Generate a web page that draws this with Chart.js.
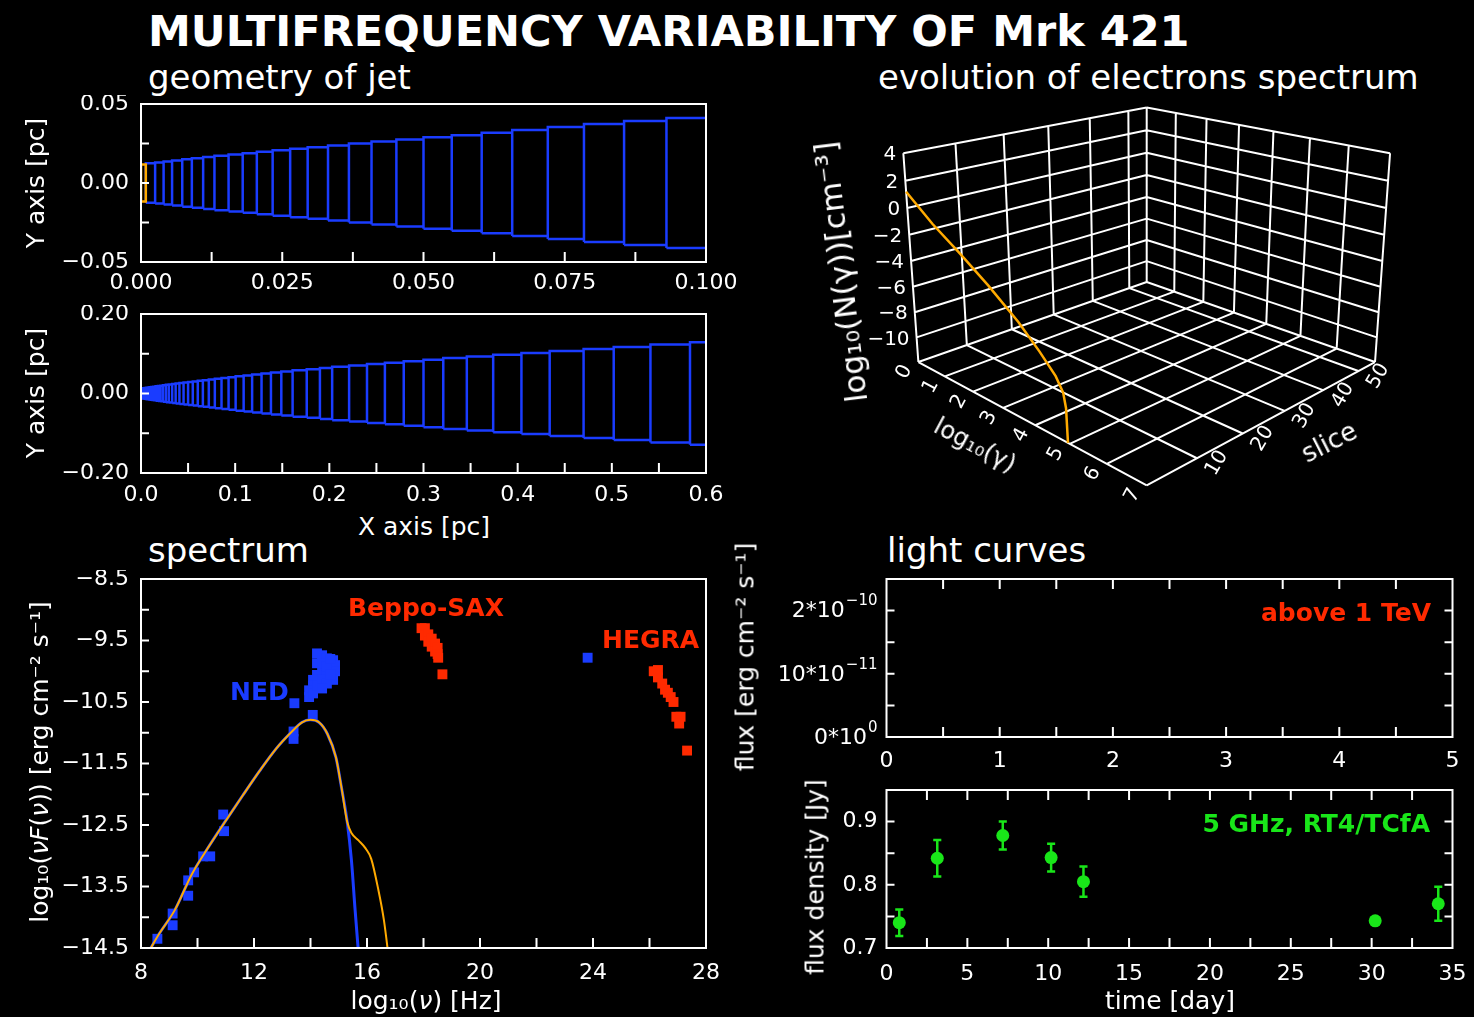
<!DOCTYPE html>
<html>
<head>
<meta charset="utf-8">
<script src="https://cdn.jsdelivr.net/npm/chart.js@4.4.1/dist/chart.umd.min.js"></script>
<style>
  body { margin: 0; background: #000; width: 1474px; height: 1017px; overflow: hidden; position: relative;
         font-family: 'DejaVu Sans', sans-serif; color: #fff; }
  canvas { position: absolute; }
  .txt { position: absolute; white-space: nowrap; line-height: 1; }
  .ctr { position: absolute; white-space: nowrap; line-height: 1; font-size: 25px; transform: translate(-50%, -50%); }
  .up { position: absolute; white-space: nowrap; line-height: 1; font-size: 25px; transform: translate(-50%, -50%) rotate(-90deg); }
  .tag { position: absolute; white-space: nowrap; line-height: 1; font-weight: bold; font-size: 25px; }
</style>
</head>
<body>
<div class="txt" style="left:148px;top:10px;font-size:43px;font-weight:bold">MULTIFREQUENCY VARIABILITY OF Mrk 421</div>
<div class="txt" style="left:148px;top:60px;font-size:34px">geometry of jet</div>
<div class="txt" style="left:878px;top:60px;font-size:34px">evolution of electrons spectrum</div>
<div class="txt" style="left:148px;top:533px;font-size:34px">spectrum</div>
<div class="txt" style="left:887px;top:533px;font-size:34px">light curves</div>

<canvas id="jetNear" width="740" height="205" style="left:0;top:95px"></canvas>
<canvas id="jetFar" width="740" height="205" style="left:0;top:305px"></canvas>
<canvas id="electrons" width="660" height="430" style="left:790px;top:90px"></canvas>
<canvas id="sed" width="740" height="420" style="left:0;top:570px"></canvas>
<canvas id="tev" width="714" height="210" style="left:760px;top:570px"></canvas>
<canvas id="radio" width="714" height="215" style="left:760px;top:780px"></canvas>

<div class="up" style="left:35px;top:183px">Y axis [pc]</div>
<div class="up" style="left:35px;top:393px">Y axis [pc]</div>
<div class="ctr" style="left:424px;top:526px">X axis [pc]</div>
<div class="txt" style="left:841px;top:272px;font-size:31px;transform:translate(-50%,-50%) rotate(-97deg)">log₁₀(N(γ))[cm⁻³]</div>
<div class="txt" style="left:975px;top:445px;font-size:24px;transform:translate(-50%,-50%) rotate(28deg)">log₁₀(γ)</div>
<div class="txt" style="left:1329px;top:442px;font-size:26px;transform:translate(-50%,-50%) rotate(-27deg)">slice</div>
<div class="up" style="left:39px;top:762px">log₁₀(<i>ν</i><i>F</i>(<i>ν</i>)) [erg cm⁻² s⁻¹]</div>
<div class="ctr" style="left:426px;top:1000px">log₁₀(<i>ν</i>) [Hz]</div>
<div class="up" style="left:745px;top:657px">flux [erg cm⁻² s⁻¹]</div>
<div class="up" style="left:815px;top:877px">flux density [Jy]</div>
<div class="ctr" style="left:1170px;top:1000px">time [day]</div>

<div class="tag" style="left:230px;top:679px;color:#1a3cff">NED</div>
<div class="tag" style="left:348px;top:595px;color:#ff2a00">Beppo-SAX</div>
<div class="tag" style="left:602px;top:627px;color:#ff2a00">HEGRA</div>
<div class="tag" style="right:43px;top:600px;color:#ff2a00">above 1 TeV</div>
<div class="tag" style="right:44px;top:811px;color:#19e619">5 GHz, RT4/TCfA</div>

<script>
const blue = '#1a3cff';
const orange = '#ffaa00';
const red = '#ff2a00';
const green = '#19e619';
const M = '\u2212';

// jet cells: boundaries along the axis and half-width of every cell [pc]
const jetEdges = [0, 0.00085, 0.0025, 0.004, 0.0055, 0.0073, 0.009, 0.011, 0.013, 0.0155, 0.018,
  0.0205, 0.0233, 0.0264, 0.0295, 0.0331, 0.0368, 0.0408, 0.0452, 0.05, 0.055, 0.0603, 0.0657,
  0.072, 0.0784, 0.0855, 0.093, 0.1005, 0.109, 0.118, 0.128, 0.138, 0.149, 0.161, 0.176, 0.19,
  0.203, 0.221, 0.24, 0.259, 0.279, 0.3, 0.321, 0.346, 0.374, 0.404, 0.434, 0.47, 0.502, 0.541,
  0.583, 0.627];
const jetRadius = [0.0117, 0.0125, 0.013, 0.0136, 0.0143, 0.015, 0.0157, 0.0164, 0.0172, 0.0181,
  0.0189, 0.0198, 0.0207, 0.0217, 0.0227, 0.0238, 0.025, 0.0262, 0.0275, 0.0289, 0.0303, 0.0318,
  0.0336, 0.0354, 0.0373, 0.0392, 0.0411, 0.0432, 0.0455, 0.0478, 0.0502, 0.0527, 0.0553, 0.0582,
  0.0612, 0.0642, 0.0672, 0.0705, 0.074, 0.0775, 0.0812, 0.085, 0.089, 0.0932, 0.0976, 0.102,
  0.1068, 0.1117, 0.117, 0.123, 0.129];

const jetNearXTicks = [0, 0.025, 0.05, 0.075, 0.1];
const jetNearXLabels = ['0.000', '0.025', '0.050', '0.075', '0.100'];
const jetNearYTicks = [-0.05, 0, 0.05];
const jetNearYLabels = [M + '0.05', '0.00', '0.05'];
const jetNearXMarks = [0.0125, 0.025, 0.0375, 0.05, 0.0625, 0.075, 0.0875];
const jetNearYMarks = [-0.025, 0, 0.025];

const jetFarXTicks = [0, 0.1, 0.2, 0.3, 0.4, 0.5, 0.6];
const jetFarXLabels = ['0.0', '0.1', '0.2', '0.3', '0.4', '0.5', '0.6'];
const jetFarYTicks = [-0.2, 0, 0.2];
const jetFarYLabels = [M + '0.20', '0.00', '0.20'];
const jetFarXMarks = [0.05, 0.1, 0.15, 0.2, 0.25, 0.3, 0.35, 0.4, 0.45, 0.5, 0.55];
const jetFarYMarks = [-0.1, 0, 0.1];

// electron spectrum box: log10(gamma) 0..7, slice 0..55, log10 N -12..4
const gammaTicks = [0, 1, 2, 3, 4, 5, 6, 7];
const sliceTicks = [0, 10, 20, 30, 40, 50];
const logNTicks = [4, 2, 0, -2, -4, -6, -8, -10, -12];
const gammaMax = 7, sliceMax = 55, logNMin = -12, logNMax = 4;
// spectrum of the first slice
const elGamma = [0, 0.9, 1.8, 2.7, 3.6, 4.2, 4.65, 4.85, 4.92, 4.95];
const elLogN = [1.2, -0.5, -1.9, -3.4, -5.1, -6.5, -7.7, -8.6, -9.6, -12];

// broadband spectrum, log10(nu) and log10(nu F(nu))
const nedNu = [8.58, 9.12, 9.12, 9.67, 9.67, 9.88, 10.2, 10.45, 10.94, 10.91, 13.43, 13.4, 13.4,
  14.08, 14.23, 14.41, 14.23, 14.58, 14.8, 14.87, 14.87, 14.8, 14.58, 14.41, 14.23, 14.09, 14.09,
  13.95, 13.95, 14.09, 14.23, 14.41, 14.58, 14.41, 14.58, 14.7, 14.41, 14.7, 23.81];
const nedFlux = [-14.35, -13.94, -14.13, -13.4, -13.65, -13.27, -13.01, -13.01, -12.6, -12.33,
  -10.52, -10.98, -11.1, -10.71, -9.71, -9.74, -9.87, -9.79, -9.82, -9.9, -10.0, -10.14, -10.06,
  -10.0, -10.06, -10.14, -10.23, -10.31, -10.42, -10.36, -10.23, -10.14, -10.2, -9.87, -9.92,
  -10.05, -10.28, -9.8, -9.78];
const saxNu = [17.93, 18.05, 18.05, 18.17, 18.17, 18.29, 18.29, 18.41, 18.41, 18.5, 18.5, 18.52, 18.67];
const saxFlux = [-9.3, -9.3, -9.42, -9.4, -9.52, -9.47, -9.6, -9.55, -9.68, -9.62, -9.72, -9.78, -10.05];
const hegraNu = [26.15, 26.3, 26.3, 26.45, 26.55, 26.65, 26.75, 26.85, 26.95, 27.1, 27.05, 27.33];
const hegraFlux = [-10.0, -9.98, -10.1, -10.2, -10.3, -10.35, -10.42, -10.5, -10.74, -10.74, -10.85, -11.29];
// model: synchrotron part shared by both curves, then the two high-frequency tails
const modelNu = [8.2, 8.6, 9.2, 9.8, 10.4, 11.0, 11.6, 12.2, 12.8, 13.3, 13.7, 14.0, 14.3, 14.6, 14.9, 15.1, 15.3];
const modelFlux = [-14.62, -14.3, -13.88, -13.3, -12.85, -12.43, -12.02, -11.62, -11.25, -11.0,
  -10.83, -10.79, -10.83, -11.02, -11.4, -11.9, -12.45];
const steepNu = [15.45, 15.58, 15.72];
const steepFlux = [-13.08, -13.89, -14.7];
const shoulderNu = [15.45, 15.7, 15.95, 16.15, 16.4, 16.6, 16.78];
const shoulderFlux = [-12.63, -12.75, -12.88, -13.05, -13.55, -14.05, -14.7];

const sedXTicks = [8, 12, 16, 20, 24, 28];
const sedXLabels = ['8', '12', '16', '20', '24', '28'];
const sedYTicks = [-14.5, -13.5, -12.5, -11.5, -10.5, -9.5, -8.5];
const sedYLabels = sedYTicks.map(v => M + String(-v));
const sedXMarks = [10, 12, 14, 16, 18, 20, 22, 24, 26];
const sedYMarks = [-14, -13.5, -13, -12.5, -12, -11.5, -11, -10.5, -10, -9.5, -9];

// light curves
const tevXTicks = [0, 1, 2, 3, 4, 5];
const tevXLabels = ['0', '1', '2', '3', '4', '5'];
const tevYTicks = [0, 1e-10, 2e-10];
const tevYMantissa = ['0*10', '10*10', '2*10'];
const tevYPower = ['0', M + '11', M + '10'];
const tevXMarks = [0.5, 1, 1.5, 2, 2.5, 3, 3.5, 4, 4.5];
const tevYMarks = [0.5e-10, 1e-10, 1.5e-10, 2e-10];

const radioDay = [0.79, 3.14, 7.19, 10.18, 12.18, 30.22, 34.12];
const radioFlux = [0.740, 0.842, 0.878, 0.843, 0.805, 0.743, 0.770];
const radioErr = [0.021, 0.029, 0.022, 0.022, 0.024, 0.004, 0.027];
const radioXTicks = [0, 5, 10, 15, 20, 25, 30, 35];
const radioXLabels = ['0', '5', '10', '15', '20', '25', '30', '35'];
const radioYTicks = [0.7, 0.8, 0.9];
const radioYLabels = ['0.7', '0.8', '0.9'];
const radioXMarks = [2.5, 5, 7.5, 10, 12.5, 15, 17.5, 20, 22.5, 25, 27.5, 30, 32.5];
const radioYMarks = [0.75, 0.8, 0.85, 0.9];

const tickFont = { family: 'DejaVu Sans', size: 22 };

// fixed-size axis boxes, no extra room for labels hanging over the ends
function noOverhang(s) {
  s.paddingTop = 0; s.paddingBottom = 0; s.paddingLeft = 0; s.paddingRight = 0;
}

function xAxis(min, max, ticks, labels, pad, height) {
  return {
    type: 'linear', min: min, max: max,
    grid: { display: false, drawTicks: false }, border: { display: false },
    afterBuildTicks: s => { s.ticks = ticks.map(v => ({ value: v })); },
    afterFit: s => { s.height = height; noOverhang(s); },
    ticks: { color: '#fff', font: tickFont, padding: pad, autoSkip: false, maxRotation: 0,
             callback: (v, i) => labels[i] }
  };
}

function yAxis(min, max, ticks, labels, pad, width) {
  return {
    type: 'linear', min: min, max: max,
    grid: { display: false, drawTicks: false }, border: { display: false },
    afterBuildTicks: s => { s.ticks = ticks.map(v => ({ value: v })); },
    afterFit: s => { s.width = width; noOverhang(s); },
    ticks: { color: '#fff', font: tickFont, padding: pad, autoSkip: false,
             callback: (v, i) => labels ? labels[i] : '' }
  };
}

// box round the plot area with inward tick marks
function frame(xMarks, yMarks, boxed) {
  return {
    id: 'frame',
    afterDatasetsDraw(chart) {
      const { ctx, chartArea: a, scales } = chart;
      ctx.save();
      ctx.strokeStyle = '#fff';
      ctx.lineWidth = 2;
      ctx.beginPath();
      xMarks.forEach(v => {
        const p = scales.x.getPixelForValue(v);
        ctx.moveTo(p, a.bottom); ctx.lineTo(p, a.bottom - 10);
        if (boxed) { ctx.moveTo(p, a.top); ctx.lineTo(p, a.top + 10); }
      });
      yMarks.forEach(v => {
        const p = scales.y.getPixelForValue(v);
        ctx.moveTo(a.left, p); ctx.lineTo(a.left + 8, p);
        if (boxed) { ctx.moveTo(a.right, p); ctx.lineTo(a.right - 8, p); }
      });
      ctx.stroke();
      ctx.strokeRect(a.left, a.top, a.right - a.left, a.bottom - a.top);
      ctx.restore();
    }
  };
}

// y labels written as mantissa*10 with a raised exponent
function powerLabels(ticks, mantissa, power) {
  return {
    id: 'powerLabels',
    afterDraw(chart) {
      const { ctx, chartArea: a, scales } = chart;
      ctx.save();
      ctx.fillStyle = '#fff';
      ctx.textAlign = 'right';
      ctx.textBaseline = 'middle';
      ticks.forEach((v, i) => {
        const y = scales.y.getPixelForValue(v);
        const right = a.left - 9;
        ctx.font = '15px "DejaVu Sans"';
        const w = ctx.measureText(power[i]).width;
        ctx.fillText(power[i], right, y - 9);
        ctx.font = '22px "DejaVu Sans"';
        ctx.fillText(mantissa[i], right - w - 1, y + 1);
      });
      ctx.restore();
    }
  };
}

function baseOptions(padding, scales) {
  return {
    responsive: false, animation: false, events: [],
    layout: { autoPadding: false, padding: padding },
    plugins: { legend: { display: false }, tooltip: { enabled: false } },
    scales: scales
  };
}

function cellOutlines(from, to) {
  const pts = [];
  for (let i = from; i < to; i++) {
    const a = jetEdges[i], b = jetEdges[i + 1], r = jetRadius[i];
    pts.push({ x: a, y: -r }, { x: a, y: r }, { x: b, y: r }, { x: b, y: -r }, { x: a, y: -r }, { x: b, y: null });
  }
  return pts;
}

function outline(data, color) {
  return { data: data, showLine: true, borderColor: color, borderWidth: 2.5, pointRadius: 0,
           borderJoinStyle: 'miter' };
}

function pairs(xs, ys) {
  return xs.map((x, i) => ({ x: x, y: ys[i] }));
}

// geometry of jet, inner part
new Chart(document.getElementById('jetNear'), {
  type: 'scatter',
  data: { datasets: [
    outline(cellOutlines(0, 1), orange),
    outline(cellOutlines(1, jetRadius.length), blue)
  ] },
  options: baseOptions({ top: 9, right: 34 }, {
    x: xAxis(0, 0.1, jetNearXTicks, jetNearXLabels, 8, 38),
    y: yAxis(-0.05, 0.05, jetNearYTicks, jetNearYLabels, 12, 141)
  }),
  plugins: [frame(jetNearXMarks, jetNearYMarks, false)]
});

// geometry of jet, whole length
new Chart(document.getElementById('jetFar'), {
  type: 'scatter',
  data: { datasets: [
    outline(cellOutlines(1, jetRadius.length), blue),
    outline(cellOutlines(0, 1), orange)
  ] },
  options: baseOptions({ top: 9, right: 34 }, {
    x: xAxis(0, 0.6, jetFarXTicks, jetFarXLabels, 9, 37),
    y: yAxis(-0.2, 0.2, jetFarYTicks, jetFarYLabels, 12, 141)
  }),
  plugins: [frame(jetFarXMarks, jetFarYMarks, false)]
});

// perspective view of the electron spectrum box
const view = { pitch: 17.2, focal: 1025, camQ: -5.81, camZ: 2.70, cx: 1146.7, cy: 223, height: 1.326 };
function project(g, s, n) {
  const X = -1 + 2 * g / gammaMax, Y = -1 + 2 * s / sliceMax;
  const p = (X + Y) / Math.SQRT2, q = (Y - X) / Math.SQRT2;
  const z = view.height * (n - logNMin) / (logNMax - logNMin);
  const a = view.pitch * Math.PI / 180;
  const dq = q - view.camQ, dz = z - view.camZ;
  const depth = dq * Math.cos(a) - dz * Math.sin(a);
  const up = dq * Math.sin(a) + dz * Math.cos(a);
  return { x: view.cx + view.focal * p / depth, y: view.cy - view.focal * up / depth };
}

const boxLines = [];
function edge(a, b) {
  boxLines.push(project(a[0], a[1], a[2]), project(b[0], b[1], b[2]), { x: 0, y: null });
}
const sliceLines = sliceTicks.concat([sliceMax]);
logNTicks.forEach(n => {
  edge([0, 0, n], [0, sliceMax, n]);
  edge([0, sliceMax, n], [gammaMax, sliceMax, n]);
});
sliceLines.forEach(s => {
  edge([0, s, logNMin], [0, s, logNMax]);
  edge([0, s, logNMin], [gammaMax, s, logNMin]);
});
gammaTicks.forEach(g => {
  edge([g, sliceMax, logNMin], [g, sliceMax, logNMax]);
  edge([g, 0, logNMin], [g, sliceMax, logNMin]);
});
const elCurve = elGamma.map((g, i) => project(g, 0, elLogN[i]));

const boxLabels = {
  id: 'boxLabels',
  afterDatasetsDraw(chart) {
    const { ctx, scales } = chart;
    const put = (txt, p, dx, dy, rot, align) => {
      ctx.save();
      ctx.translate(scales.x.getPixelForValue(p.x) + dx, scales.y.getPixelForValue(p.y) + dy);
      ctx.rotate(rot * Math.PI / 180);
      ctx.textAlign = align;
      ctx.textBaseline = 'middle';
      ctx.fillText(txt, 0, 0);
      ctx.restore();
    };
    ctx.save();
    ctx.fillStyle = '#fff';
    ctx.font = '20px "DejaVu Sans"';
    logNTicks.slice(0, -1).forEach(n => put(n < 0 ? M + (-n) : String(n), project(0, 0, n), -7, 2, 0, 'right'));
    gammaTicks.forEach(g => put(String(g), project(g, 0, logNMin), -14, 10, -62, 'center'));
    sliceTicks.slice(1).forEach(s => put(String(s), project(gammaMax, s, logNMin), 20, 5, -60, 'center'));
    ctx.restore();
  }
};

new Chart(document.getElementById('electrons'), {
  type: 'scatter',
  data: { datasets: [
    { data: elCurve, showLine: true, borderColor: orange, borderWidth: 2.5, pointRadius: 0 },
    { data: boxLines, showLine: true, borderColor: '#fff', borderWidth: 2, pointRadius: 0 }
  ] },
  options: baseOptions(0, {
    x: { type: 'linear', min: 790, max: 1450, display: false },
    y: { type: 'linear', min: 90, max: 520, reverse: true, display: false }
  }),
  plugins: [boxLabels]
});

// broadband spectrum
function squares(xs, ys, color) {
  return { data: pairs(xs, ys), pointStyle: 'rect', pointRadius: 7, backgroundColor: color, borderWidth: 0 };
}
new Chart(document.getElementById('sed'), {
  type: 'scatter',
  data: { datasets: [
    { data: pairs(modelNu.concat(shoulderNu), modelFlux.concat(shoulderFlux)), showLine: true,
      borderColor: orange, borderWidth: 2, pointRadius: 0, cubicInterpolationMode: 'monotone' },
    { data: pairs(modelNu.concat(steepNu), modelFlux.concat(steepFlux)), showLine: true,
      borderColor: blue, borderWidth: 3, pointRadius: 0, cubicInterpolationMode: 'monotone' },
    squares(nedNu, nedFlux, blue),
    squares(saxNu, saxFlux, red),
    squares(hegraNu, hegraFlux, red)
  ] },
  options: baseOptions({ top: 9, right: 34 }, {
    x: xAxis(8, 28, sedXTicks, sedXLabels, 12, 42),
    y: yAxis(-14.5, -8.5, sedYTicks, sedYLabels, 12, 141)
  }),
  plugins: [frame(sedXMarks, sedYMarks, false)]
});

// TeV light curve (no data in this interval)
new Chart(document.getElementById('tev'), {
  type: 'scatter',
  data: { datasets: [] },
  options: baseOptions({ top: 9, right: 21.5 }, {
    x: xAxis(0, 5, tevXTicks, tevXLabels, 11, 43),
    y: yAxis(0, 2.5e-10, tevYTicks, null, 9, 126.5)
  }),
  plugins: [frame(tevXMarks, tevYMarks, true), powerLabels(tevYTicks, tevYMantissa, tevYPower)]
});

// 5 GHz light curve with error bars
const errBars = [];
radioDay.forEach((d, i) => {
  const lo = radioFlux[i] - radioErr[i], hi = radioFlux[i] + radioErr[i];
  errBars.push({ x: d, y: lo }, { x: d, y: hi }, { x: d, y: null },
    { x: d - 0.25, y: hi }, { x: d + 0.25, y: hi }, { x: d, y: null },
    { x: d - 0.25, y: lo }, { x: d + 0.25, y: lo }, { x: d, y: null });
});
new Chart(document.getElementById('radio'), {
  type: 'scatter',
  data: { datasets: [
    { data: pairs(radioDay, radioFlux), pointStyle: 'circle', pointRadius: 6.5, backgroundColor: green, borderWidth: 0 },
    { data: errBars, showLine: true, borderColor: green, borderWidth: 2.5, pointRadius: 0 }
  ] },
  options: baseOptions({ top: 10, right: 21.5 }, {
    x: xAxis(0, 35, radioXTicks, radioXLabels, 13, 47),
    y: yAxis(0.7, 0.95, radioYTicks, radioYLabels, 9, 126.5)
  }),
  plugins: [frame(radioXMarks, radioYMarks, true)]
});
</script>
</body>
</html>
